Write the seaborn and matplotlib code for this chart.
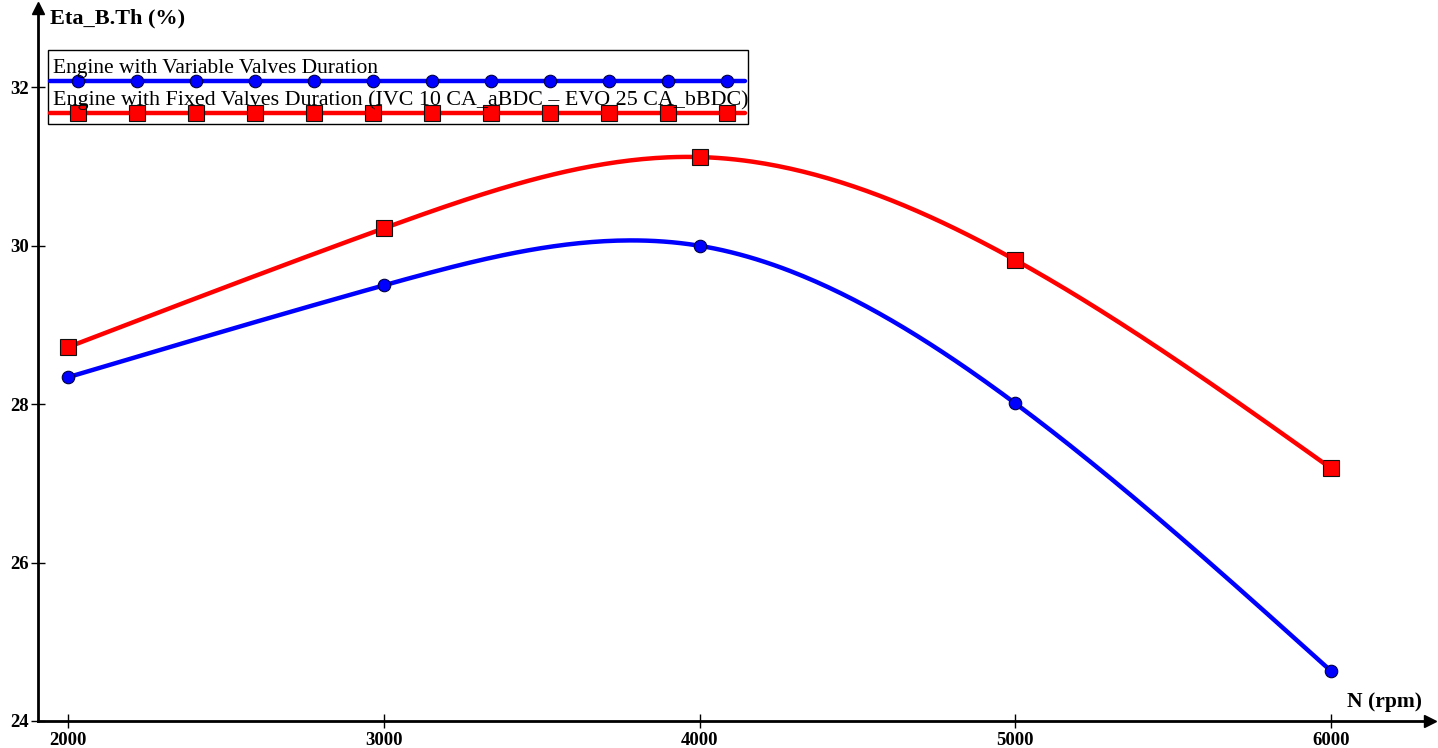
import numpy as np
import pandas as pd
import matplotlib
matplotlib.use("Agg")
import matplotlib.pyplot as plt
import seaborn as sns
from matplotlib.patches import Rectangle

# ---- data ----
rpm = [2000, 3000, 4000, 5000, 6000]
eta_variable = [28.34, 29.50, 30.00, 28.01, 24.63]
eta_fixed = [28.72, 30.22, 31.12, 29.82, 27.19]
label_variable = "Engine with Variable Valves Duration"
label_fixed = "Engine with Fixed Valves Duration (IVC 10 CA_aBDC – EVO 25 CA_bBDC)"
xticks = [2000, 3000, 4000, 5000, 6000]
yticks = [24, 26, 28, 30, 32]


def natural_spline(x, y, n=300):
    x = np.asarray(x, float); y = np.asarray(y, float)
    m = len(x); h = np.diff(x)
    A = np.zeros((m, m)); b = np.zeros(m)
    A[0, 0] = A[-1, -1] = 1
    for i in range(1, m - 1):
        A[i, i - 1] = h[i - 1]; A[i, i] = 2 * (h[i - 1] + h[i]); A[i, i + 1] = h[i]
        b[i] = 3 * ((y[i + 1] - y[i]) / h[i] - (y[i] - y[i - 1]) / h[i - 1])
    c = np.linalg.solve(A, b)
    xs = np.linspace(x[0], x[-1], n); ys = np.empty_like(xs)
    for k, xv in enumerate(xs):
        i = min(np.searchsorted(x, xv, side="right") - 1, m - 2)
        d = xv - x[i]
        bi = (y[i + 1] - y[i]) / h[i] - h[i] * (2 * c[i] + c[i + 1]) / 3
        di = (c[i + 1] - c[i]) / (3 * h[i])
        ys[k] = y[i] + bi * d + c[i] * d ** 2 + di * d ** 3
    return xs, ys


sns.set_theme(style="white")
plt.rcParams["font.family"] = ["Liberation Serif", "DejaVu Serif"]
plt.rcParams["text.color"] = "black"
plt.rcParams["xtick.color"] = "black"
plt.rcParams["ytick.color"] = "black"
plt.rcParams["xtick.labelcolor"] = "black"
plt.rcParams["ytick.labelcolor"] = "black"

fig = plt.figure(figsize=(14.38, 7.48), dpi=100)
ax = fig.add_axes([0.0264, 0.0361, 0.968, 0.953])

blue = "#0000ff"
red = "#ff0000"
lw = 3.2

xs, ys = natural_spline(rpm, eta_variable)
sns.lineplot(x=xs, y=ys, ax=ax, color=blue, lw=lw, zorder=3)
xs, ys = natural_spline(rpm, eta_fixed)
sns.lineplot(x=xs, y=ys, ax=ax, color=red, lw=lw, zorder=3)
ax.plot(rpm, eta_variable, ls="none", marker="o", ms=9, mfc=blue, mec="#000044", mew=0.8, zorder=4)
ax.plot(rpm, eta_fixed, ls="none", marker="s", ms=11.5, mfc=red, mec="#111111", mew=0.8, zorder=4)

ax.set_xlim(1905, 6313)
ax.set_ylim(24, 33.0)
ax.set_xticks(xticks)
ax.set_yticks(yticks)
ax.set_xticklabels([str(t) for t in xticks], fontsize=13.5, fontweight="bold", color="black")
ax.set_yticklabels([str(t) for t in yticks], fontsize=13.5, fontweight="bold", color="black")
ax.tick_params(axis="both", direction="inout", length=10, width=1.0, colors="black",
               left=True, bottom=True)
ax.tick_params(axis="x", pad=3)
ax.tick_params(axis="y", pad=1.5)
for s in ["top", "right"]:
    ax.spines[s].set_visible(False)
for s in ["left", "bottom"]:
    ax.spines[s].set_color("black")
    ax.spines[s].set_linewidth(2.0)
ax.grid(False)
ax.set_xlabel(""); ax.set_ylabel("")

# axis arrows
ax.plot([0], [1.0], marker="^", ms=9, color="black", transform=ax.transAxes, clip_on=False)
ax.plot([1.0], [0], marker=">", ms=9, color="black", transform=ax.transAxes, clip_on=False)

# axis titles
ax.text(0.0088, 0.985, "Eta_B.Th (%)", transform=ax.transAxes, fontsize=16, fontweight="bold",
        ha="left", va="center", color="black")
ax.text(0.994, 0.026, "N (rpm)", transform=ax.transAxes, fontsize=15.5, fontweight="bold",
        ha="right", va="center", color="black")

# custom legend
ax.add_patch(Rectangle((0.0072, 0.837), 0.503, 0.104, transform=ax.transAxes, fill=False,
                       edgecolor="black", lw=1.0, zorder=5, clip_on=False))
ax.plot([0.0086, 0.508], [0.8976, 0.8976], color=blue, lw=lw, transform=ax.transAxes, zorder=5)
ax.plot([0.0086, 0.508], [0.8527, 0.8527], color=red, lw=lw, transform=ax.transAxes, zorder=5)
mx = (40 + 59 * np.arange(12)) / 1392
ax.plot(mx, np.full(12, 0.8976), ls="none", marker="o", ms=9, mfc=blue, mec="#000044", mew=0.8,
        transform=ax.transAxes, zorder=6)
ax.plot(mx, np.full(12, 0.8527), ls="none", marker="s", ms=11.5, mfc=red, mec="#111111", mew=0.8,
        transform=ax.transAxes, zorder=6)
ax.text(0.0108, 0.909, label_variable, transform=ax.transAxes, fontsize=15.5, ha="left",
        va="baseline", zorder=7, color="black")
ax.text(0.0108, 0.864, label_fixed, transform=ax.transAxes, fontsize=15.8, ha="left",
        va="baseline", zorder=7, color="black")

fig.savefig("out.png", dpi=100, facecolor="white")
